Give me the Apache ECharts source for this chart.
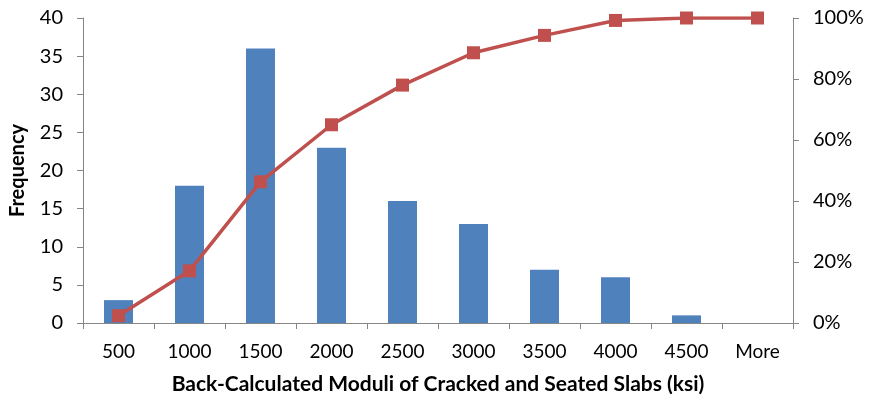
<!DOCTYPE html>
<html><head><meta charset="utf-8">
<script src="https://cdn.jsdelivr.net/npm/echarts@6/dist/echarts.min.js"></script>
<style>html,body{margin:0;padding:0;background:#fff}#c{width:870px;height:400px}</style>
</head><body><div id="c"></div>
<script>
const categories = ['500','1000','1500','2000','2500','3000','3500','4000','4500','More'];
const frequency = [3, 18, 36, 23, 16, 13, 7, 6, 1, 0];
const cumulativePct = [2.4, 17.1, 46.3, 65.0, 78.0, 88.6, 94.3, 99.2, 100, 100];
const leftTicks = [0,5,10,15,20,25,30,35,40];
const rightTicks = [0,20,40,60,80,100];

const font = 'Lato, "Open Sans", sans-serif';
const chart = echarts.init(document.getElementById('c'));
chart.setOption({
  animation: false,
  grid: {left: 83, right: 77, top: 18, bottom: 76},
  xAxis: {
    type: 'category', data: categories,
    axisLine: {lineStyle: {color: '#868686', width: 1}},
    axisTick: {show: true, alignWithLabel: false, length: 6, lineStyle: {color: '#868686'}},
    axisLabel: {color: '#000', fontSize: 19, fontFamily: font, margin: 19},
    name: 'Back-Calculated Moduli of Cracked and Seated Slabs (ksi)',
    nameLocation: 'middle', nameGap: 51,
    nameTextStyle: {color: '#000', fontSize: 21, fontWeight: 'bold', fontFamily: font}
  },
  yAxis: [{
    type: 'value', min: 0, max: 40, interval: 5,
    axisLine: {show: true, lineStyle: {color: '#868686'}},
    axisTick: {show: true, length: 6, lineStyle: {color: '#868686'}},
    splitLine: {show: false},
    axisLabel: {color: '#000', fontSize: 20, fontFamily: font, margin: 20},
    name: 'Frequency', nameLocation: 'middle', nameGap: 55, nameRotate: 90,
    nameTextStyle: {color: '#000', fontSize: 20, fontWeight: 'bold', fontFamily: font}
  }, {
    type: 'value', min: 0, max: 100, interval: 20, position: 'right',
    axisLine: {show: true, lineStyle: {color: '#868686'}},
    axisTick: {show: true, length: 6, lineStyle: {color: '#868686'}},
    splitLine: {show: false},
    axisLabel: {color: '#000', fontSize: 20, fontFamily: font, margin: 20, formatter: '{value}%'}
  }],
  series: [{
    type: 'bar', data: frequency, yAxisIndex: 0, barWidth: 29,
    itemStyle: {color: '#4F81BD'}
  }, {
    type: 'line', data: cumulativePct, yAxisIndex: 1,
    symbol: 'rect', symbolSize: 13,
    lineStyle: {color: '#C0504D', width: 3.5},
    itemStyle: {color: '#C0504D'}
  }]
});
</script></body></html>
